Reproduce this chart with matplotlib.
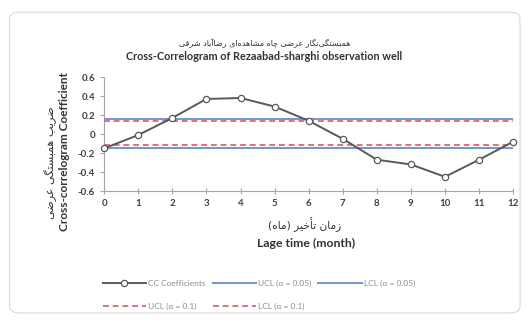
import matplotlib
matplotlib.use('Agg')
import matplotlib.pyplot as plt
from matplotlib.patches import FancyBboxPatch

# lag (months) and cross-correlation coefficients
lags = [0, 1, 2, 3, 4, 5, 6, 7, 8, 9, 10, 11, 12]
cc = [-0.15, -0.01, 0.17, 0.37, 0.38, 0.29, 0.14, -0.05, -0.27, -0.32, -0.45, -0.27, -0.08]

# confidence limits
ucl_05 = 0.155
lcl_05 = -0.145
ucl_1 = 0.14
lcl_1 = -0.12

title_fa = 'همبستگی‌نگار عرضی چاه مشاهده‌ای رضاآباد شرقی'
title_en = 'Cross-Correlogram of Rezaabad-sharghi observation well'
ylabel_fa = 'ضریب همبستگی عرضی'
ylabel_en = 'Cross-correlogram Coefficient'
xlabel_fa = 'زمان تأخیر (ماه)'
xlabel_en = 'Lage time (month)'
legend_labels = ['CC Coefficients', 'UCL (α = 0.05)', 'LCL (α = 0.05)',
                 'UCL (α = 0.1)', 'LCL (α = 0.1)']

# --- tiny persian shaper (matplotlib has no arabic shaping / rtl) ---
FORMS = {
    'ا': ('\uFE8D', '\uFE8E', None, None),
    'آ': ('\uFE81', '\uFE82', None, None),
    'أ': ('\uFE83', '\uFE84', None, None),
    'ب': ('\uFE8F', '\uFE90', '\uFE91', '\uFE92'),
    'ت': ('\uFE95', '\uFE96', '\uFE97', '\uFE98'),
    'خ': ('\uFEA5', '\uFEA6', '\uFEA7', '\uFEA8'),
    'د': ('\uFEA9', '\uFEAA', None, None),
    'ر': ('\uFEAD', '\uFEAE', None, None),
    'ز': ('\uFEAF', '\uFEB0', None, None),
    'س': ('\uFEB1', '\uFEB2', '\uFEB3', '\uFEB4'),
    'ش': ('\uFEB5', '\uFEB6', '\uFEB7', '\uFEB8'),
    'ض': ('\uFEBD', '\uFEBE', '\uFEBF', '\uFEC0'),
    'ع': ('\uFEC9', '\uFECA', '\uFECB', '\uFECC'),
    'ق': ('\uFED5', '\uFED6', '\uFED7', '\uFED8'),
    'م': ('\uFEE1', '\uFEE2', '\uFEE3', '\uFEE4'),
    'ن': ('\uFEE5', '\uFEE6', '\uFEE7', '\uFEE8'),
    'ه': ('\uFEE9', '\uFEEA', '\uFEEB', '\uFEEC'),
    'چ': ('\uFB7A', '\uFB7B', '\uFB7C', '\uFB7D'),
    'گ': ('\uFB92', '\uFB93', '\uFB94', '\uFB95'),
    'ی': ('\uFBFC', '\uFBFD', '\uFBFE', '\uFBFF'),
}


def joins_left(ch):
    return ch in FORMS and FORMS[ch][2] is not None


def shape(s):
    out = []
    for i, ch in enumerate(s):
        if ch == '\u200c':
            continue
        if ch not in FORMS:
            out.append({'(': ')', ')': '('}.get(ch, ch))
            continue
        prev = s[i - 1] if i > 0 else ''
        nxt = s[i + 1] if i + 1 < len(s) else ''
        p = joins_left(prev)
        n = joins_left(ch) and nxt in FORMS
        iso, fin, ini, med = FORMS[ch]
        if p and n:
            out.append(med)
        elif p:
            out.append(fin)
        elif n:
            out.append(ini)
        else:
            out.append(iso)
    return ''.join(reversed(out))


plt.rcParams['font.family'] = ['Lato', 'DejaVu Sans']
grey = '#404040'

fig = plt.figure(figsize=(5.29, 3.2), dpi=100)
fig.patches.append(FancyBboxPatch((0.018, 0.022), 0.965, 0.94,
                                  boxstyle='round,pad=0,rounding_size=0.02',
                                  transform=fig.transFigure, fc='none',
                                  ec='#d9d9d9', lw=0.8))

ax = fig.add_axes([0.197, 0.403, 0.773, 0.356])
ax.set_facecolor('none')

blue = '#7897cc'
red = '#e0707a'
l1, = ax.plot(lags, cc, color='#595959', lw=1.4, marker='o', ms=4.5,
              mfc='white', mec='#595959', mew=0.9, zorder=5, clip_on=False)
l2 = ax.axhline(ucl_05, color=blue, lw=1.5, zorder=3)
l3 = ax.axhline(lcl_05, color=blue, lw=1.5, zorder=3)
l4 = ax.axhline(ucl_1, color=red, lw=1.4, ls=(0, (3, 2)), zorder=4)
l5 = ax.axhline(lcl_1, color=red, lw=1.4, ls=(0, (3, 2)), zorder=4)

ax.set_xlim(0, 12)
ax.set_ylim(-0.6, 0.6)
ax.set_xticks(lags)
ax.set_yticks([0.6, 0.4, 0.2, 0, -0.2, -0.4, -0.6])
ax.set_yticklabels(['0.6', '0.4', '0.2', '0', '-0.2', '-0.4', '-0.6'])
for sp in ['top', 'right']:
    ax.spines[sp].set_visible(False)
for sp in ['left', 'bottom']:
    ax.spines[sp].set_color('#a6a6a6')
    ax.spines[sp].set_linewidth(0.8)
ax.tick_params(axis='both', colors='#a6a6a6', labelcolor=grey, labelsize=7,
               length=3, width=0.8)
ax.tick_params(axis='x', direction='inout', length=4)
for lab in ax.get_xticklabels() + ax.get_yticklabels():
    lab.set_fontweight('bold')

# titles
fig.text(0.5, 1 - 43 / 320, shape(title_fa), ha='center', va='center',
         fontsize=5.8, color='#333333', family=['DejaVu Sans'])
fig.text(0.5, 1 - 56 / 320, title_en, ha='center', va='center',
         fontsize=7.8, fontweight='bold', color='#333333')

# axis labels
fig.text(51 / 529, 1 - 163 / 320, shape(ylabel_fa), ha='center', va='center',
         rotation=90, fontsize=8, color='#333333', family=['DejaVu Sans'])
fig.text(64 / 529, 1 - 152 / 320, ylabel_en, ha='center', va='center',
         rotation=90, fontsize=8.5, fontweight='bold', color='#333333')
fig.text(305 / 529, 1 - 225 / 320, shape(xlabel_fa), ha='center', va='center',
         fontsize=7.7, color='#333333', family=['DejaVu Sans'])
fig.text(306 / 529, 1 - 243 / 320, xlabel_en, ha='center', va='center',
         fontsize=8.8, fontweight='bold', color='#333333')

# legend, filled row by row
handles = [l1, l4, l2, l5, l3]
labels = [legend_labels[0], legend_labels[3], legend_labels[1],
          legend_labels[4], legend_labels[2]]
leg = fig.legend(handles, labels, ncol=3, loc='center left',
                 bbox_to_anchor=(95 / 529, 1 - 295 / 320), frameon=False,
                 fontsize=6, handlelength=5.2, columnspacing=0.8,
                 labelspacing=1.9, handletextpad=0.3)
for t in leg.get_texts():
    t.set_color('#8c8c8c')

fig.savefig('out.png', dpi=100)
